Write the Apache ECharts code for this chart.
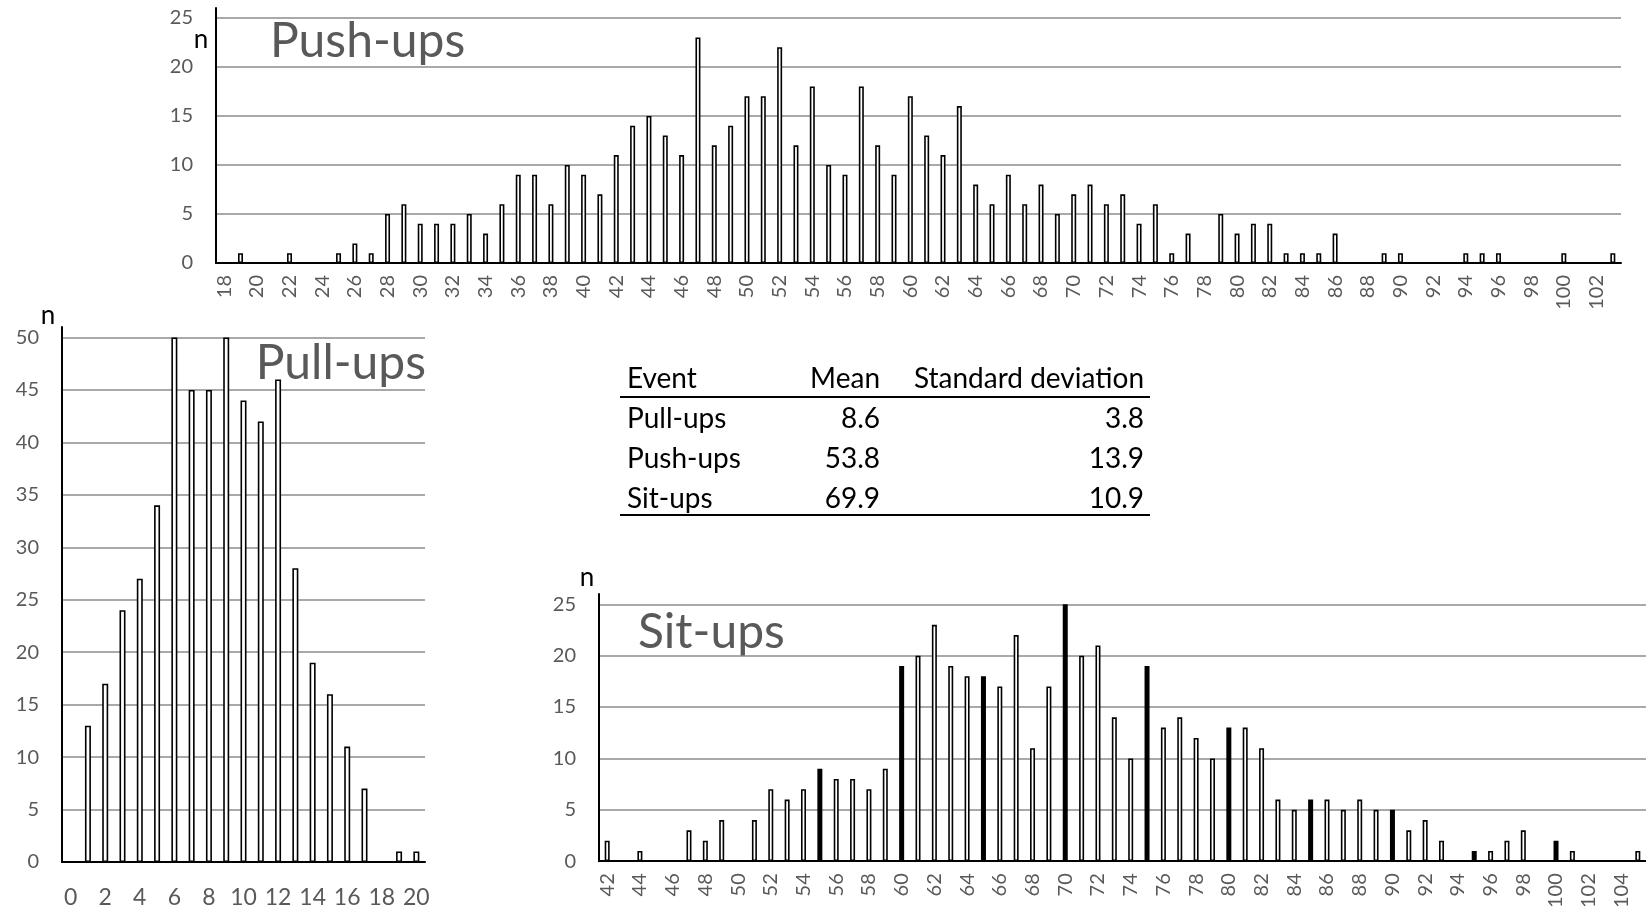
<!DOCTYPE html>
<html>
<head>
<meta charset="utf-8">
<script src="https://cdn.jsdelivr.net/npm/echarts@6/dist/echarts.min.js"></script>
<style>
  html, body { margin: 0; padding: 0; background: #fff; }
  #main { width: 1646px; height: 911px; }
</style>
</head>
<body>
<div id="main"></div>
<script>
/********************** data ************************/
function range(a, b) { var r = []; for (var i = a; i <= b; i++) r.push(String(i)); return r; }

// Push-ups, number of people for 18 .. 103
var pushCats = range(18, 103);
var pushCounts = [
  0, 1, 0, 0, 1, 0, 0, 1, 2, 1,
  5, 6, 4, 4, 4, 5, 3, 6, 9, 9,
  6, 10, 9, 7, 11, 14, 15, 13, 11, 23,
  12, 14, 17, 17, 22, 12, 18, 10, 9, 18,
  12, 9, 17, 13, 11, 16, 8, 6, 9, 6,
  8, 5, 7, 8, 6, 7, 4, 6, 1, 3,
  0, 5, 3, 4, 4, 1, 1, 1, 3, 0,
  0, 1, 1, 0, 0, 0, 1, 1, 1, 0,
  0, 0, 1, 0, 0, 1
];

// Pull-ups, 0 .. 20
var pullCats = range(0, 20);
var pullCounts = [0, 13, 17, 24, 27, 34, 50, 45, 45, 50, 44, 42, 46, 28, 19, 16, 11, 7, 0, 1, 1];

// Sit-ups, 42 .. 105 (chart runs off the right edge)
var sitCats = range(42, 105);
var sitCounts = [
  2, 0, 1, 0, 0, 3, 2, 4, 0, 4,
  7, 6, 7, 9, 8, 8, 7, 9, 19, 20,
  23, 19, 18, 18, 17, 22, 11, 17, 25, 20,
  21, 14, 10, 19, 13, 14, 12, 10, 13, 13,
  11, 6, 5, 6, 6, 5, 6, 5, 5, 3,
  4, 2, 0, 1, 1, 2, 3, 0, 2, 1,
  0, 0, 0, 1
];
// bars drawn filled black
var sitBlack = ['55', '60', '65', '70', '75', '80', '85', '90', '95', '100'];

// summary table
var tableHead = ['Event', 'Mean', 'Standard deviation'];
var tableEvents = ['Pull-ups', 'Push-ups', 'Sit-ups'];
var tableMeans = ['8.6', '53.8', '69.9'];
var tableSds = ['3.8', '13.9', '10.9'];

/********************** chart ************************/
var FONT = 'Lato, "Open Sans", sans-serif';
var LABEL = '#595959';
var GRID = '#8c8c8c';

function xAxisOf(idx, cats, rotate, size, margin) {
  return {
    type: 'category',
    gridIndex: idx,
    data: cats,
    axisTick: { show: false },
    axisLine: { lineStyle: { color: '#000', width: 2 } },
    axisLabel: {
      interval: 1, // every other label
      rotate: rotate,
      margin: margin,
      color: LABEL,
      fontSize: size,
      fontFamily: FONT
    }
  };
}
function yAxisOf(idx, max) {
  return {
    type: 'value',
    gridIndex: idx,
    min: 0,
    max: max,
    interval: 5,
    axisLine: { show: true, lineStyle: { color: '#000', width: 2 } },
    axisTick: { show: false },
    axisLabel: { showMaxLabel: false, margin: 23, color: LABEL, fontSize: 20, fontFamily: FONT },
    splitLine: { showMaxLine: false, lineStyle: { color: GRID, width: 1.5 } }
  };
}
function barsOf(idx, data, width) {
  return {
    type: 'bar',
    xAxisIndex: idx,
    yAxisIndex: idx,
    barWidth: width,
    itemStyle: { color: '#fff', borderColor: '#000', borderWidth: 1.6 },
    data: data,
    silent: true,
    animation: false
  };
}

var sitData = sitCounts.map(function (v, i) {
  if (sitBlack.indexOf(sitCats[i]) >= 0) return { value: v, itemStyle: { color: '#000' } };
  return v;
});

function txt(x, y, s, size, fill, align) {
  return {
    type: 'text', x: x, y: y, silent: true,
    style: { text: s, fontSize: size, fontFamily: FONT, fill: fill, textAlign: align || 'left', textVerticalAlign: 'middle' }
  };
}
function hline(x1, x2, y) {
  return { type: 'line', silent: true, shape: { x1: x1, y1: y, x2: x2, y2: y }, style: { stroke: '#000', lineWidth: 2 } };
}

var graphics = [
  txt(270, 42, 'Push-ups', 48, LABEL),
  txt(426, 364, 'Pull-ups', 48, LABEL, 'right'),
  txt(638, 633, 'Sit-ups', 48, LABEL),
  txt(201, 40, 'n', 26, '#000', 'center'),
  txt(48, 316, 'n', 26, '#000', 'center'),
  txt(587, 578, 'n', 26, '#000', 'center'),
  txt(627, 379, tableHead[0], 28, '#000'),
  txt(880, 379, tableHead[1], 28, '#000', 'right'),
  txt(1144, 379, tableHead[2], 28, '#000', 'right'),
  hline(620, 1150, 397),
  hline(620, 1150, 515)
];
tableEvents.forEach(function (ev, i) {
  var y = 419 + i * 40;
  graphics.push(txt(627, y, ev, 28, '#000'));
  graphics.push(txt(880, y, tableMeans[i], 28, '#000', 'right'));
  graphics.push(txt(1144, y, tableSds[i], 28, '#000', 'right'));
});

var myChart = echarts.init(document.getElementById('main'), null, { renderer: 'canvas' });
var option = {
  animation: false,
  backgroundColor: '#fff',
  grid: [
    { left: 216, top: 8, width: 1405, height: 255 },   // push-ups
    { left: 62, top: 327, width: 363, height: 535 },   // pull-ups
    { left: 599, top: 594, width: 1053, height: 268 }  // sit-ups
  ],
  xAxis: [
    xAxisOf(0, pushCats, 90, 20, 12),
    xAxisOf(1, pullCats, 0, 23, 24),
    xAxisOf(2, sitCats, 90, 20, 12)
  ],
  yAxis: [yAxisOf(0, 26), yAxisOf(1, 51), yAxisOf(2, 26)],
  series: [
    barsOf(0, pushCounts, 5),
    barsOf(1, pullCounts, 6),
    barsOf(2, sitData, 5)
  ],
  graphic: graphics
};
myChart.setOption(option);
window.addEventListener('resize', function () { myChart.resize(); });
</script>
</body>
</html>
